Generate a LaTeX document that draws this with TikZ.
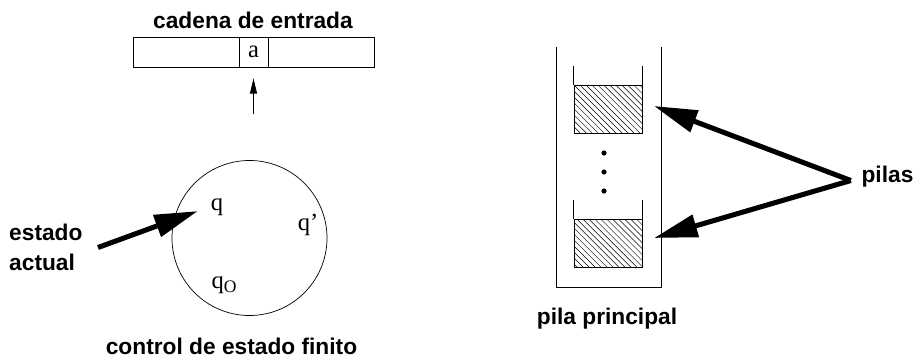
\documentclass[tikz,border=0pt]{standalone}
\usepackage{fontspec}
\setmainfont{Liberation Serif}
\setsansfont{Liberation Sans}
\usetikzlibrary{arrows.meta,patterns.meta}

\tikzset{
  lbl/.style={font=\sffamily\bfseries\fontsize{19.4}{26}\selectfont, inner sep=0pt},
  sym/.style={font=\fontsize{21}{25}\selectfont, inner sep=1pt},
  bigarrow/.style={line width=4.3pt, -{Triangle[length=37pt,width=19pt]}},
  smallarrow/.style={line width=0.6pt, -{Triangle[length=13pt,width=6pt]}},
  stackbox/.style={draw, line width=0.8pt, minimum width=2.04cm, minimum height=1.44cm,
    inner sep=0pt, pattern={Lines[angle=-45,distance=3.6pt,line width=0.4pt]}},
}

\begin{document}
\begin{tikzpicture}[x=0.03cm, y=-0.03cm]
\useasboundingbox (0,0) rectangle (917,358);

% cinta de entrada
\node[lbl] (cadena) at (253,20.5) {cadena de entrada};
\draw[line width=0.6pt] (133,37) rectangle (374,67);
\node[sym, draw, line width=0.6pt, minimum width=0.87cm, minimum height=0.9cm, inner sep=0pt] (cell) at (253.5,52) {a};
\coordinate (cabeza) at (253.5,114);
\draw[smallarrow, shorten >=9.4pt] (cabeza) -- (cell);

% control finito
\node[draw, circle, line width=0.6pt, minimum size=4.65cm] (ctrl) at (249.5,238) {};
\node[sym] (q) at (217,207) {q};
\node[sym] (qp) at (308,225) {q’};
\node[sym] (q0) at (224,285) {q\raisebox{-0.35ex}{\fontsize{15}{15}\selectfont O}};
\node[lbl, align=left, anchor=west] (actual) at (9,247.5) {estado\\actual};
\draw[bigarrow] ([xshift=13pt]actual.east) -- ([xshift=-10pt,yshift=-3.5pt]q.west);
\node[lbl] (finito) at (231.5,346) {control de estado finito};

% pila principal
\draw[line width=0.6pt] (556,47) -- (556,287) -- (661,287) -- (661,47);
\node[stackbox] (top) at (608,109.5) {};
\node[stackbox] (bottom) at (608,243.5) {};
\draw[line width=0.6pt] (top.north west) -- ++(0,-19) (top.north east) -- ++(0,-19);
\draw[line width=0.6pt] (bottom.north west) -- ++(0,-19) (bottom.north east) -- ++(0,-19);
\foreach \y in {153,172,191} {
	\fill (604,\y) circle (2.6);
}
\node[lbl] (principal) at (607,319) {pila principal};

\node[lbl] (pilas) at (887.5,177) {pilas};
\draw[bigarrow] ([xshift=-9pt,yshift=-3pt]pilas.west) -- ([xshift=10pt,yshift=3pt]top.east);
\draw[bigarrow] ([xshift=-9pt,yshift=-3pt]pilas.west) -- ([xshift=10pt,yshift=4.7pt]bottom.east);

\end{tikzpicture}
\end{document}
